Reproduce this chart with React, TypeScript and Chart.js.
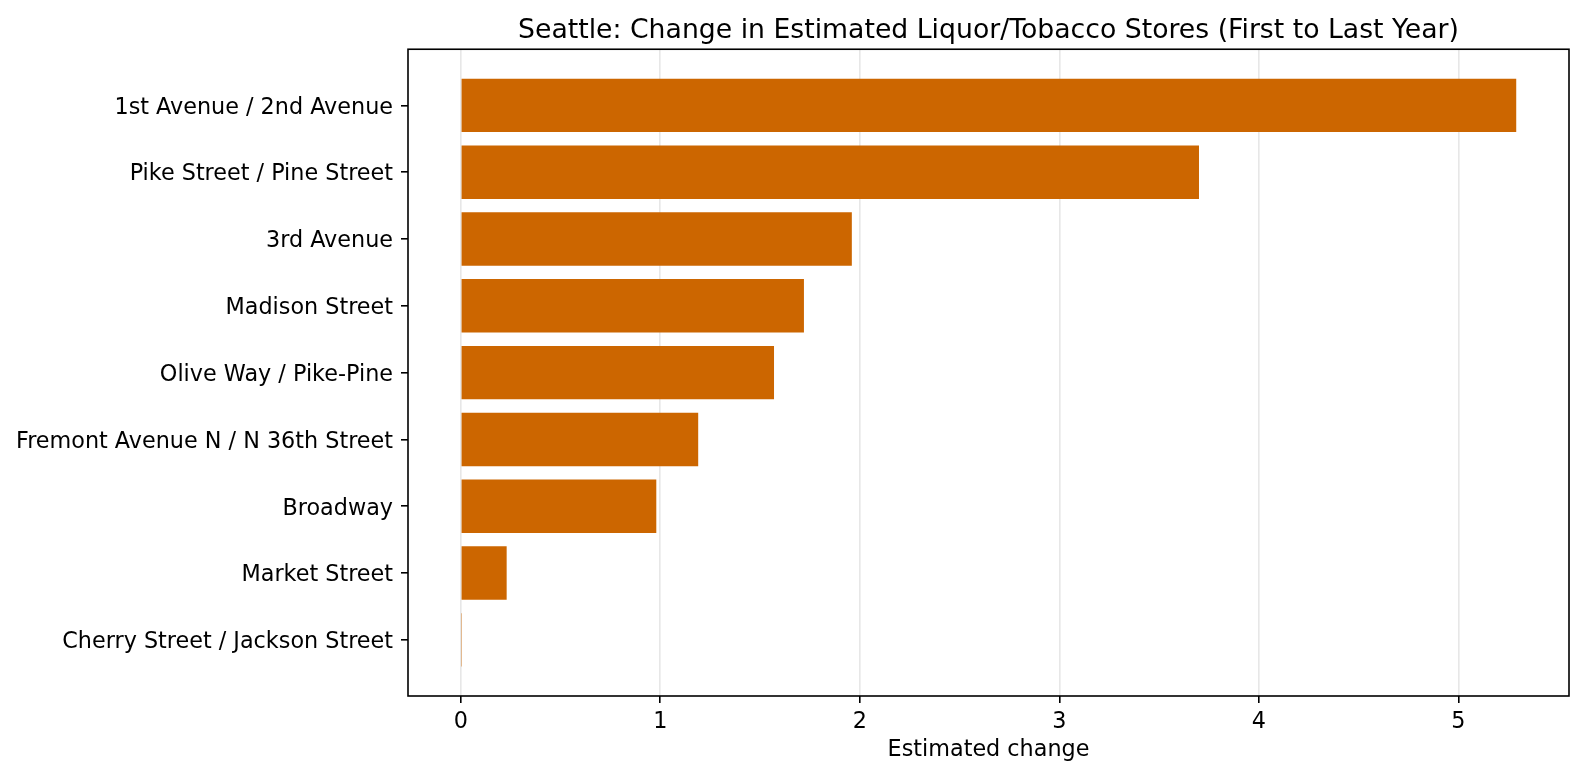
import React, { useEffect, useRef } from 'react';
import Chart from 'chart.js/auto';

const categories = [
  '1st Avenue / 2nd Avenue',
  'Pike Street / Pine Street',
  '3rd Avenue',
  'Madison Street',
  'Olive Way / Pike-Pine',
  'Fremont Avenue N / N 36th Street',
  'Broadway',
  'Market Street',
  'Cherry Street / Jackson Street',
];
const changes = [5.29, 3.7, 1.96, 1.72, 1.57, 1.19, 0.98, 0.23, 0.006];
const xTicks = [0, 1, 2, 3, 4, 5];

const FONT = 'DejaVu Sans';

// matplotlib-style box around the axes
const spines = {
  id: 'spines',
  afterDraw(chart: Chart) {
    const { ctx, chartArea: a } = chart;
    ctx.save();
    ctx.strokeStyle = '#000';
    ctx.lineWidth = 1.6;
    ctx.strokeRect(a.left, a.top, a.right - a.left, a.bottom - a.top);
    ctx.restore();
  },
};

const App: React.FC = () => {
  const canvasRef = useRef<HTMLCanvasElement>(null);

  useEffect(() => {
    document.body.style.margin = '0';
    if (!canvasRef.current) return;

    const maxVal = Math.max(...changes);
    const pad = maxVal * 0.05;
    const n = categories.length;
    const yPad = (n - 1 + 0.8) * 0.05;

    const chart = new Chart(canvasRef.current, {
      type: 'bar',
      data: {
        datasets: [
          {
            data: changes.map((v, i) => ({ x: v, y: i })),
            backgroundColor: '#cc6600',
            borderWidth: 0,
            barPercentage: 1,
            categoryPercentage: 0.8,
          },
        ],
      },
      options: {
        indexAxis: 'y',
        animation: false,
        responsive: false,
        devicePixelRatio: 1,
        layout: { padding: { left: 0, right: 16, top: 0, bottom: 0 } },
        plugins: {
          legend: { display: false },
          tooltip: { enabled: false },
          title: {
            display: true,
            fullSize: false,
            text: 'Seattle: Change in Estimated Liquor/Tobacco Stores (First to Last Year)',
            color: '#000',
            font: { family: FONT, size: 26.7, weight: 'normal' },
            padding: { top: 14.6, bottom: 2.6 },
          },
        },
        scales: {
          x: {
            type: 'linear',
            min: -pad,
            max: maxVal + pad,
            z: 1,
            afterBuildTicks: (s: any) => {
              s.ticks = xTicks.map(v => ({ value: v }));
            },
            afterFit: (s: any) => {
              s.height = 80;
            },
            border: { display: false },
            grid: {
              color: 'rgba(176,176,176,0.3)',
              tickColor: '#000',
              lineWidth: 1.6,
              tickLength: 7,
            },
            ticks: {
              color: '#000',
              padding: 6,
              font: { family: FONT, size: 22.3 },
            },
            title: {
              display: true,
              text: 'Estimated change',
              color: '#000',
              font: { family: FONT, size: 22.3 },
              padding: { top: 0, bottom: 12 },
            },
          },
          y: {
            type: 'linear',
            reverse: true,
            offset: false,
            min: -0.4 - yPad,
            max: n - 1 + 0.4 + yPad,
            afterBuildTicks: (s: any) => {
              s.ticks = categories.map((_, i) => ({ value: i }));
            },
            afterFit: (s: any) => {
              s.width = 408;
            },
            border: { display: false },
            grid: {
              offset: false,
              drawOnChartArea: false,
              drawTicks: true,
              tickLength: 7,
              color: '#000',
              lineWidth: 1.6,
            },
            ticks: {
              autoSkip: false,
              color: '#000',
              padding: 8,
              labelOffset: 2.5,
              font: { family: FONT, size: 22.3 },
              callback: (v: any) => categories[v as number],
            },
          },
        },
      },
      plugins: [spines],
    });

    return () => chart.destroy();
  }, []);

  return (
    <div style={{ width: 1585, height: 776, background: '#fff' }}>
      <canvas ref={canvasRef} width={1585} height={776} />
    </div>
  );
};

export default App;
